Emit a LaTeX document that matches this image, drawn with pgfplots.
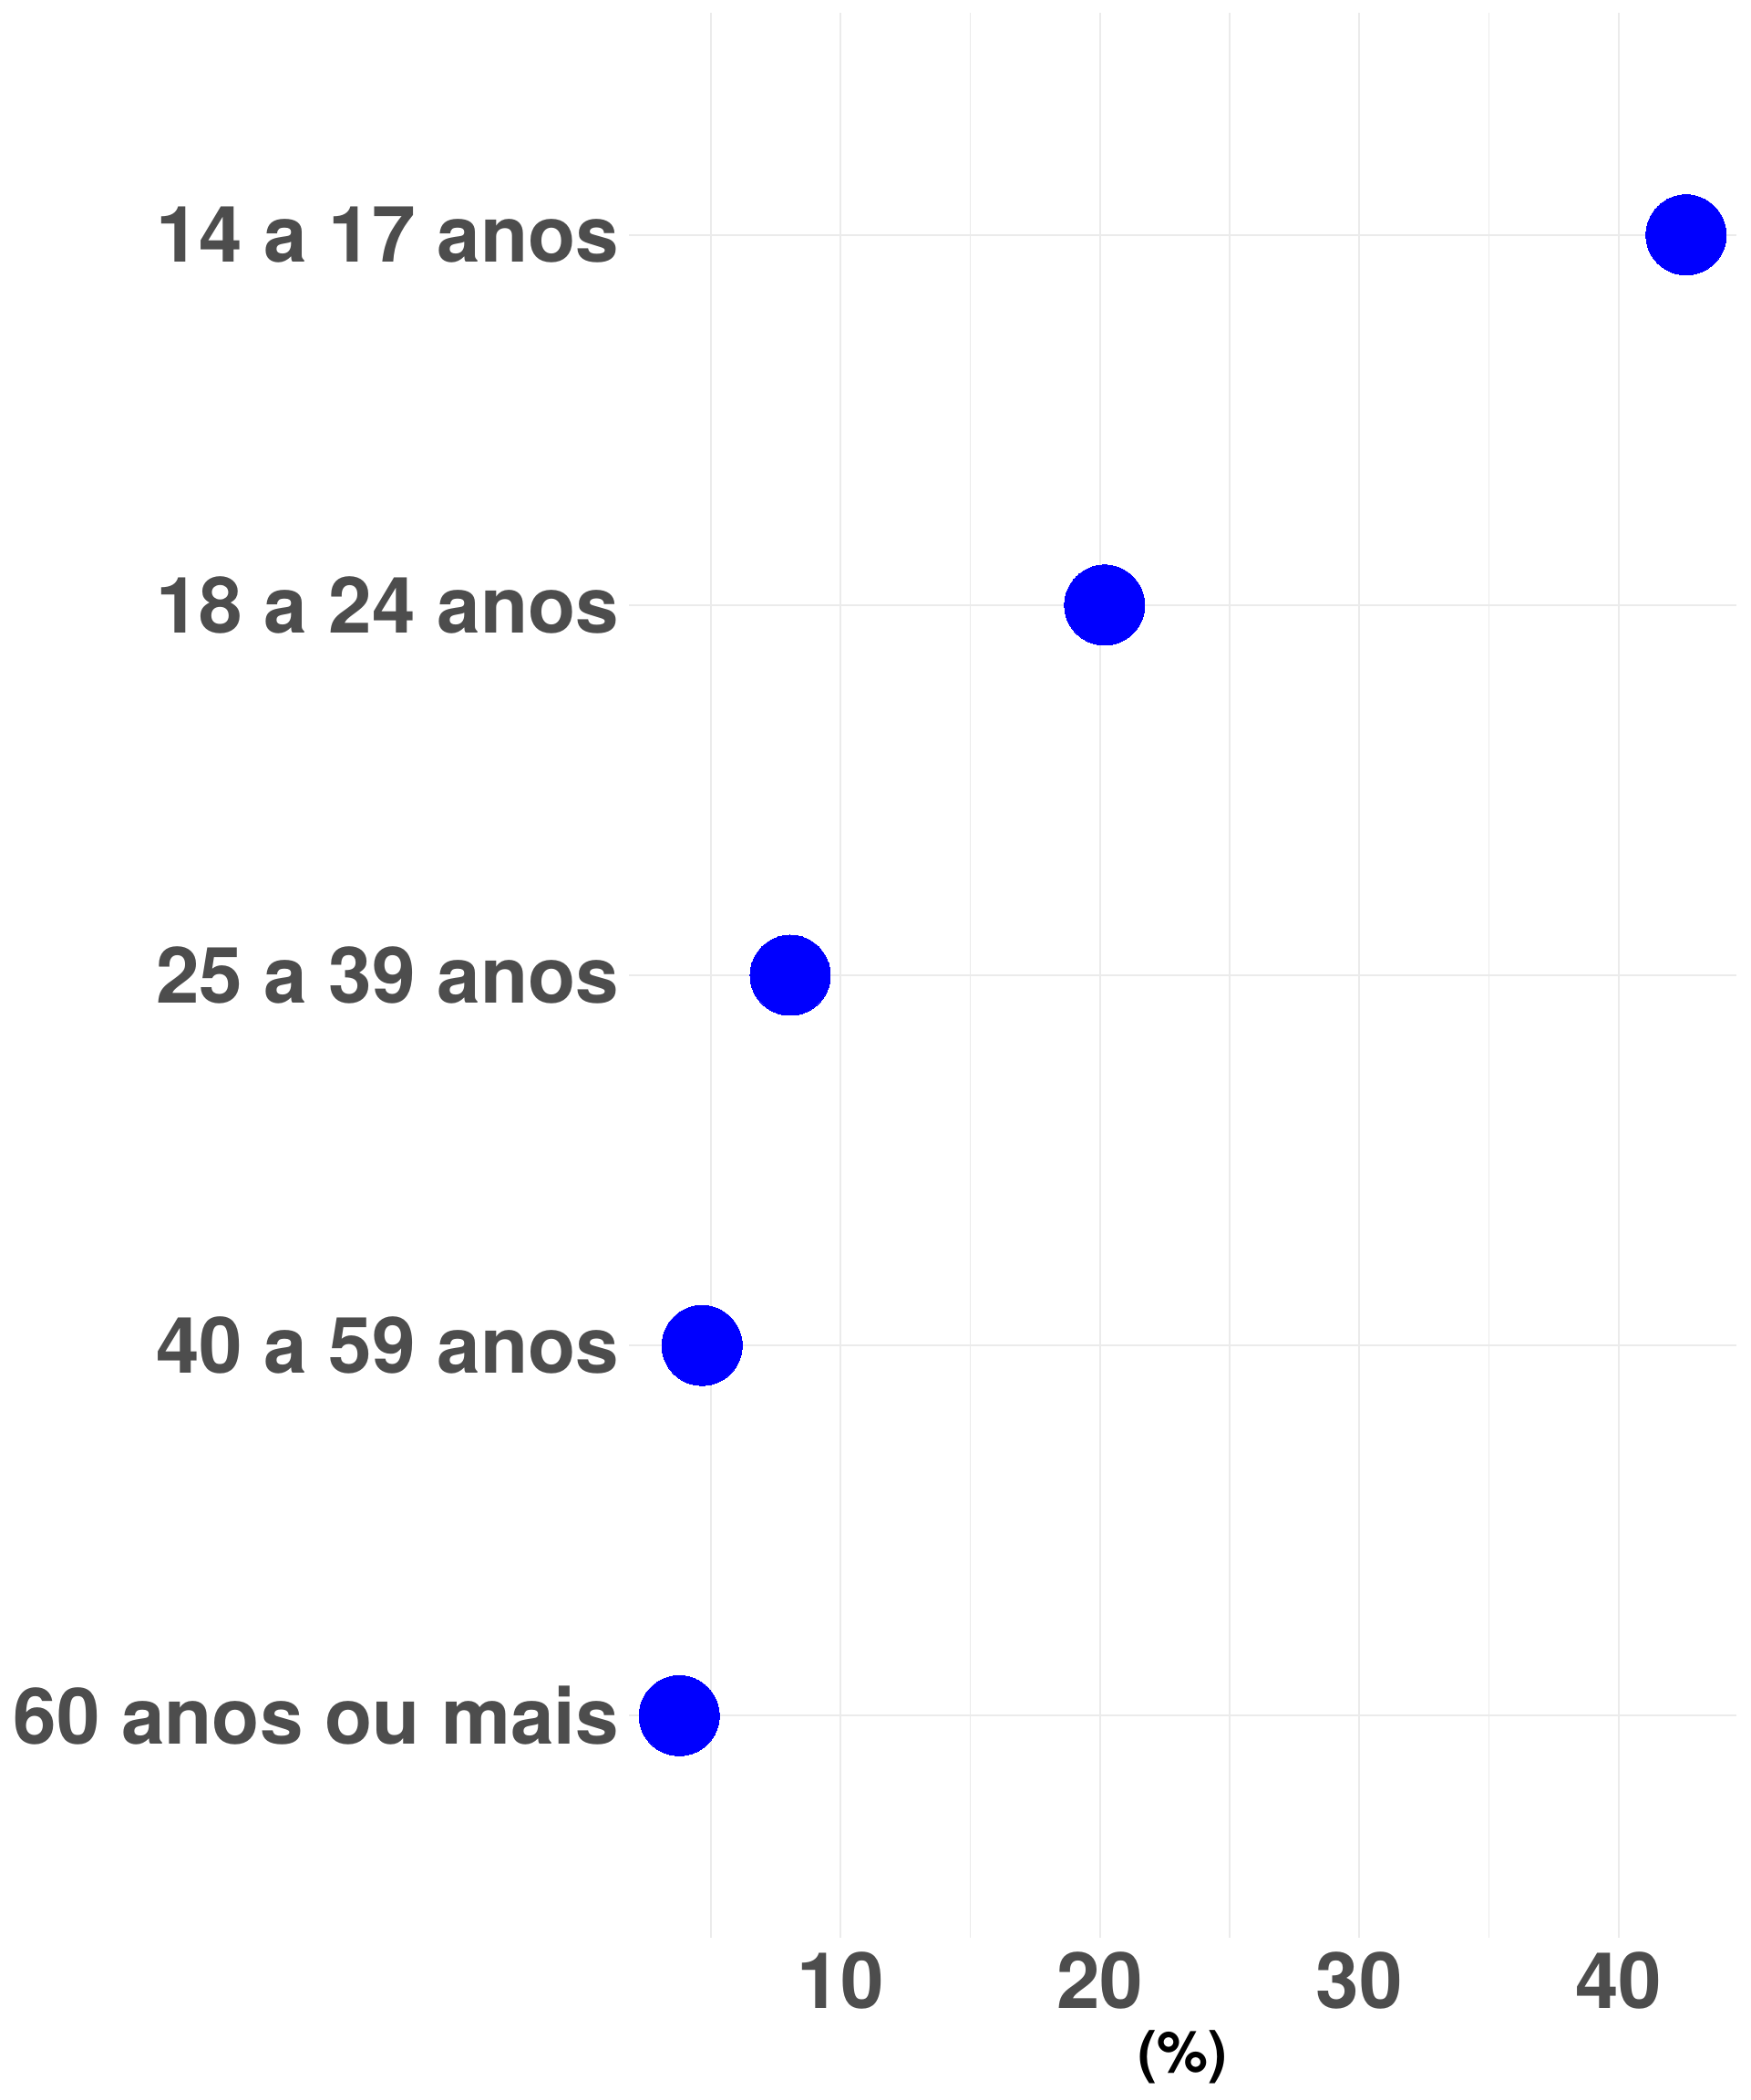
\documentclass[border=0pt]{standalone}
\usepackage{pgfplots}
\pgfplotsset{compat=1.18}
\usepackage{fontspec}
\setmainfont{TeX Gyre Heros}
\definecolor{gridgray}{HTML}{EBEBEB}
\definecolor{tickgray}{HTML}{4D4D4D}
\definecolor{markblue}{RGB}{0,0,255}
\begin{document}
\begin{tikzpicture}
\path[use as bounding box] (-165.6bp,-42.72bp) rectangle (295.2bp,510.24bp);
\begin{axis}[
 scale only axis, width=291.6bp, height=506.88bp,
 xmin=1.84, xmax=44.54, ymin=0.4, ymax=5.6,
 axis line style={draw=none},
 major tick length=0pt, minor tick length=0pt,
 tick style={draw=none},
 xtick={10,20,30,40}, minor xtick={5,15,25,35},
 ytick={1,2,3,4,5},
 yticklabels={60 anos ou mais, 40 a 59 anos, 25 a 39 anos, 18 a 24 anos, 14 a 17 anos},
 xmajorgrids, xminorgrids, ymajorgrids,
 major grid style={color=gridgray, line width=0.48bp},
 minor grid style={color=gridgray, line width=0.3bp},
 tick label style={font=\fontsize{20.5bp}{24bp}\selectfont\bfseries, text=tickgray, inner sep=0pt},
 xticklabel style={anchor=base, yshift=-18.5bp},
 yticklabel style={anchor=east, xshift=-2.4bp},
 /pgf/number format/assume math mode=true,
 xlabel={(\%)},
 xlabel style={at={(axis description cs:0.5,0)}, anchor=base, yshift=-35.5bp, font=\fontsize{15.1bp}{18bp}\selectfont\bfseries, inner sep=0pt, text=black},
 clip=false,
]
\addplot[only marks, color=markblue, mark=*, mark size=10.56bp, mark options={fill=markblue, draw=markblue, line width=0pt}] coordinates {(42.6,5) (20.18,4) (8.06,3) (4.66,2) (3.78,1)};
\end{axis}
\end{tikzpicture}
\end{document}
